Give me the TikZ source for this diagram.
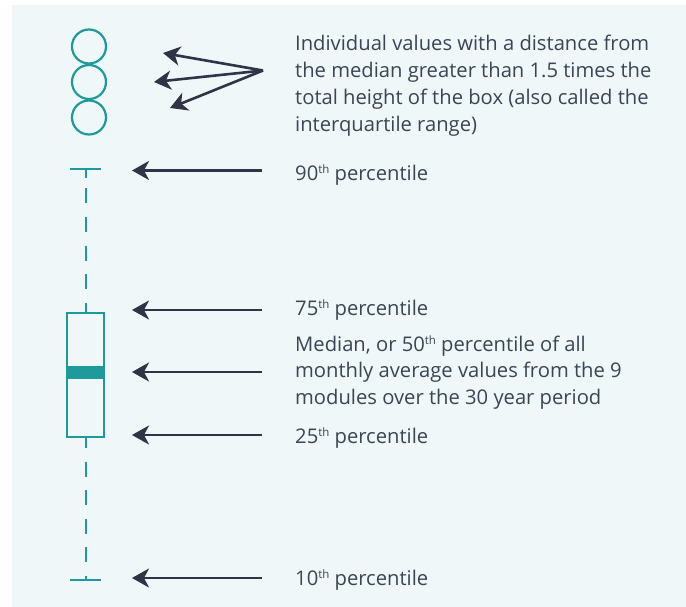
\documentclass[tikz,border=0pt]{standalone}
\usepackage{fontspec}
\setmainfont{Open Sans}
\usetikzlibrary{arrows.meta}
\definecolor{bgc}{HTML}{EFF7F8}
\definecolor{teal1}{HTML}{1E9A9B}
\definecolor{arrc}{HTML}{2F3447}
\definecolor{txtc}{HTML}{3A4556}
\newcommand{\ordth}{\raisebox{0.33em}{\fontsize{11.5}{11.5}\selectfont th}}
\tikzset{
  lbl/.style={anchor=base west,inner sep=0pt,text=txtc,font=\fontsize{20.2}{26.9}\selectfont},
  ptr/.style={draw=arrc,line width=2.6pt,-{Stealth[length=17pt,width=19pt,inset=5pt]}},
  teal line/.style={draw=teal1,line width=2pt},
  outlier/.style={circle,draw=teal1,line width=2.2pt,minimum size=34pt,inner sep=0pt}
}
\begin{document}
\begin{tikzpicture}[x=1pt,y=-1pt]
\useasboundingbox (0,0) rectangle (686,607);
\fill[white] (0,0) rectangle (686,607);
\fill[bgc] (12,5) rectangle (686,607);
% outliers
\node[outlier] (o1) at (89,46.5) {};
\node[outlier] (o2) at (89,82) {};
\node[outlier] (o3) at (89,117.5) {};
% whiskers
\coordinate (capT) at (85.5,169.5);
\coordinate (capB) at (85.5,579.5);
\draw[teal line] (70,169.5) -- (101,169.5);
\draw[teal line] (70,579.5) -- (101,579.5);
% box
\node[draw=teal1,line width=2pt,minimum width=37pt,minimum height=124pt,inner sep=0pt] (box) at (85.5,374.5) {};
\fill[teal1] (67,366) rectangle (104,379);
\draw[teal line,dash pattern=on 9pt off 10pt on 15pt off 13.5pt on 15pt off 13.5pt on 15pt off 13.5pt on 15pt off 13.5pt on 15pt off 8pt on 20pt] (capT) -- (box.north);
\draw[teal line,dash pattern=on 10pt off 14pt on 15pt off 13.5pt on 15pt off 13.5pt on 15pt off 13.5pt on 15pt off 13.5pt] (box.south) -- (capB);
% labels
\node[lbl] (tout) at (295,50.7) {\begin{tabular}[t]{@{}l@{}}Individual values with a distance from\\the median greater than 1.5 times the\\total height of the box (also called the\\interquartile range)\end{tabular}};
\node[lbl] (t90) at (295,180.5) {90\ordth{} percentile};
\node[lbl] (t75) at (295,315.5) {75\ordth{} percentile};
\node[lbl] (tmed) at (295,351) {\begin{tabular}[t]{@{}l@{}}Median, or 50\ordth{} percentile of all\\monthly average values from the 9\\modules over the 30 year period\end{tabular}};
\node[lbl] (t25) at (295,443) {25\ordth{} percentile};
\node[lbl] (t10) at (295,585.5) {10\ordth{} percentile};
% arrow coordinates
\coordinate (s0) at (263,70.5);
\coordinate (h1) at (163,53);
\coordinate (h2) at (154,82);
\coordinate (h3) at (170,108);
\coordinate (s90) at (262,170.5);
\coordinate (e90) at (132,170.5);
\coordinate (s75) at (262,310);
\coordinate (e75) at (132,310);
\coordinate (smed) at (262,372);
\coordinate (emed) at (132,372);
\coordinate (s25) at (262,435);
\coordinate (e25) at (132,435);
\coordinate (s10) at (262,578);
\coordinate (e10) at (132,578);
\draw[ptr] (s0) -- (h1);
\draw[ptr] (s0) -- (h2);
\draw[ptr] (s0) -- (h3);
\draw[ptr] (s90) -- (e90);
\draw[ptr] (s75) -- (e75);
\draw[ptr] (smed) -- (emed);
\draw[ptr] (s25) -- (e25);
\draw[ptr] (s10) -- (e10);
\end{tikzpicture}
\end{document}
